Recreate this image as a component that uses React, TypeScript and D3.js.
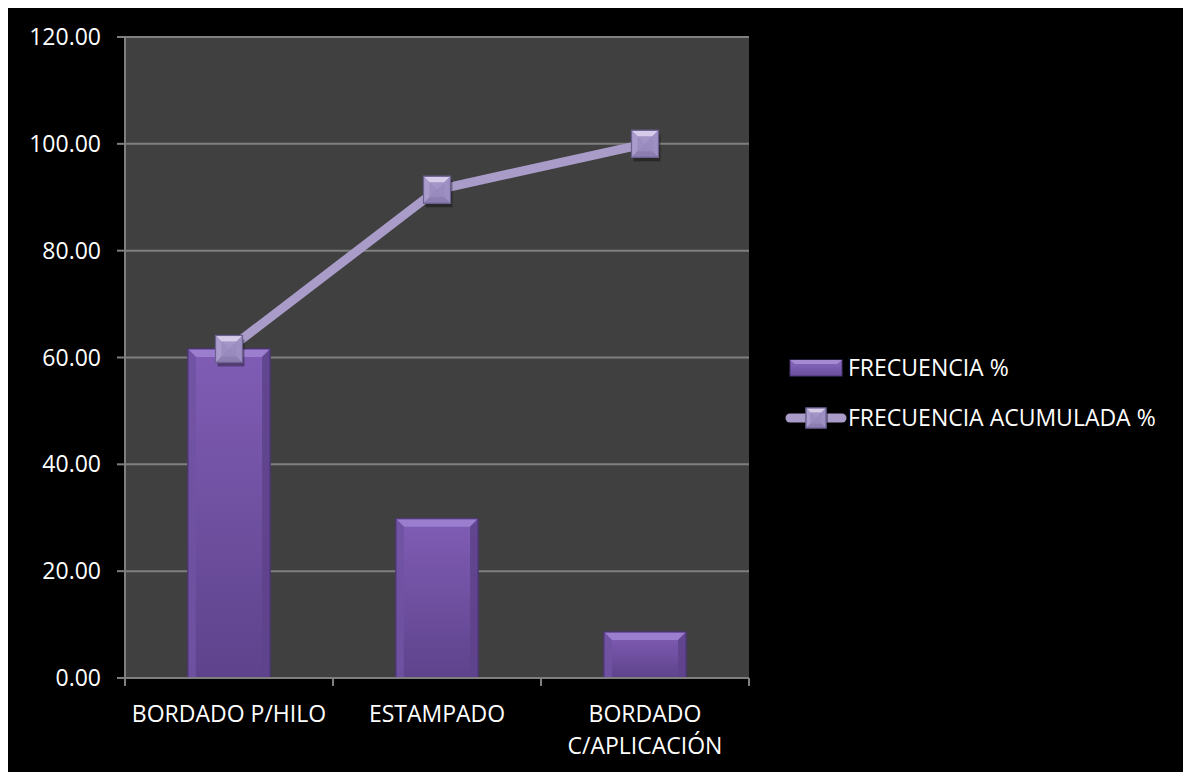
import React from "react";
import * as d3 from "d3";

const categories = ["BORDADO P/HILO", "ESTAMPADO", "BORDADO C/APLICACIÓN"];
const categoryLines = [["BORDADO P/HILO"], ["ESTAMPADO"], ["BORDADO", "C/APLICACIÓN"]];
const frecuencia = [61.6, 29.8, 8.6];
const acumulada = [61.6, 91.4, 100.0];
const yTicks = [0, 20, 40, 60, 80, 100, 120];
const legendLabels = ["FRECUENCIA %", "FRECUENCIA ACUMULADA %"];

const W = 1183;
const H = 766;
const FONT = "'Open Sans', 'Liberation Sans', sans-serif";

function Marker({ cx, cy, s }: { cx: number; cy: number; s: number }) {
  const h = s / 2;
  const x0 = cx - h, x1 = cx + h, y0 = cy - h, y1 = cy + h;
  const i = s * 0.22;
  return (
    <g>
      <rect x={x0 + 2} y={y0 + 4} width={s} height={s} fill="#000" opacity={0.35} />
      <rect x={x0} y={y0} width={s} height={s} fill="#9a8cbf" stroke="#6c6090" strokeWidth={1} />
      <polygon points={`${x0},${y0} ${x1},${y0} ${cx},${cy}`} fill="#d7cbea" />
      <polygon points={`${x0},${y0} ${x0},${y1} ${cx},${cy}`} fill="#a99bcb" />
      <polygon points={`${x1},${y0} ${x1},${y1} ${cx},${cy}`} fill="#9e90c2" />
      <polygon points={`${x0},${y1} ${x1},${y1} ${cx},${cy}`} fill="#8c7eb0" />
      <rect x={x0 + i} y={y0 + i} width={s - 2 * i} height={s - 2 * i} fill="#9a8cbf" opacity={0.85} />
      <rect x={x0} y={y0} width={s} height={s} fill="none" stroke="#6c6090" strokeWidth={1.2} />
    </g>
  );
}

function Bar({ x, y, w, h }: { x: number; y: number; w: number; h: number }) {
  const b = Math.min(8, h / 2);
  return (
    <g>
      <rect x={x} y={y} width={w} height={h} fill="url(#barGrad)" stroke="#4e3878" strokeWidth={1} />
      <polygon points={`${x},${y} ${x + w},${y} ${x + w - b},${y + b} ${x + b},${y + b}`} fill="#9c7ecf" />
      <polygon points={`${x},${y} ${x + b},${y + b} ${x + b},${y + h} ${x},${y + h}`} fill="#7052a2" opacity={0.9} />
      <polygon points={`${x + w},${y} ${x + w - b},${y + b} ${x + w - b},${y + h} ${x + w},${y + h}`} fill="#5e448c" opacity={0.9} />
      <rect x={x} y={y} width={w} height={h} fill="none" stroke="#4a3474" strokeWidth={1} />
    </g>
  );
}

export default function App() {
  const left = 117, top = 31, right = 741, bottom = 672;
  const x = d3.scaleBand<string>().domain(categories).range([left, right]).paddingInner(0).paddingOuter(0);
  const y = d3.scaleLinear().domain([0, 120]).range([bottom, top]);
  const bw = x.bandwidth() * 0.395;
  const cx = (c: string) => (x(c) as number) + x.bandwidth() / 2;
  const line = d3.line<number>().x((_, i) => cx(categories[i])).y((d) => y(d));

  return (
    <svg width={W} height={H} style={{ display: "block", marginTop: -2, background: "#000" }} fontFamily={FONT}>
      <defs>
        <linearGradient id="barGrad" x1="0" y1="0" x2="0" y2="1">
          <stop offset="0" stopColor="#805db5" />
          <stop offset="1" stopColor="#5e438c" />
        </linearGradient>
        <linearGradient id="legGrad" x1="0" y1="0" x2="0" y2="1">
          <stop offset="0" stopColor="#8a6abf" />
          <stop offset="1" stopColor="#6a4d9c" />
        </linearGradient>
      </defs>
      <rect x={0} y={0} width={W} height={H} fill="#000" />
      <rect x={left} y={top} width={right - left} height={bottom - top} fill="#404040" />
      {yTicks.map((t) => (
        <g key={t}>
          {t > 0 && <line x1={left} x2={right} y1={y(t)} y2={y(t)} stroke="#7f7f7f" strokeWidth={2} />}
          <line x1={left - 8} x2={left} y1={y(t)} y2={y(t)} stroke="#7f7f7f" strokeWidth={2} />
          <text x={93} y={y(t)} dy="0.35em" textAnchor="end" fill="#fff" fontSize={23}>
            {t.toFixed(2)}
          </text>
        </g>
      ))}
      {categories.map((c, i) => (
        <Bar key={c} x={cx(c) - bw / 2} y={y(frecuencia[i])} w={bw} h={y(0) - y(frecuencia[i])} />
      ))}
      <line x1={left} x2={left} y1={top} y2={bottom} stroke="#7f7f7f" strokeWidth={2} />
      <line x1={left} x2={right} y1={bottom} y2={bottom} stroke="#7f7f7f" strokeWidth={2} />
      {[...categories.map((c) => x(c) as number), right].map((v, i) => (
        <line key={i} x1={v} x2={v} y1={bottom} y2={bottom + 8} stroke="#7f7f7f" strokeWidth={2} />
      ))}
      <path d={line(acumulada) || ""} fill="none" stroke="#a99cc9" strokeWidth={9} strokeLinejoin="round" />
      {acumulada.map((v, i) => (
        <Marker key={i} cx={cx(categories[i])} cy={y(v)} s={27} />
      ))}
      {categories.map((c, i) => (
        <text key={c} x={cx(c)} y={y(0) + 36} textAnchor="middle" fill="#fff" fontSize={23}>
          {categoryLines[i].map((l, j) => (
            <tspan key={j} x={cx(c)} dy={j === 0 ? "0.35em" : 32}>{l}</tspan>
          ))}
        </text>
      ))}
      <g>
        <rect x={782} y={354} width={52} height={16} fill="url(#legGrad)" stroke="#4a3474" />
        <polygon points="782,354 834,354 829,358 787,358" fill="#a68bd4" />
        <text x={840} y={362} dy="0.35em" fill="#fff" fontSize={23}>{legendLabels[0]}</text>
        <line x1={782} x2={834} y1={412} y2={412} stroke="#a99cc9" strokeWidth={9} strokeLinecap="round" />
        <Marker cx={808} cy={412} s={20} />
        <text x={840} y={412} dy="0.35em" fill="#fff" fontSize={23}>{legendLabels[1]}</text>
      </g>
    </svg>
  );
}
